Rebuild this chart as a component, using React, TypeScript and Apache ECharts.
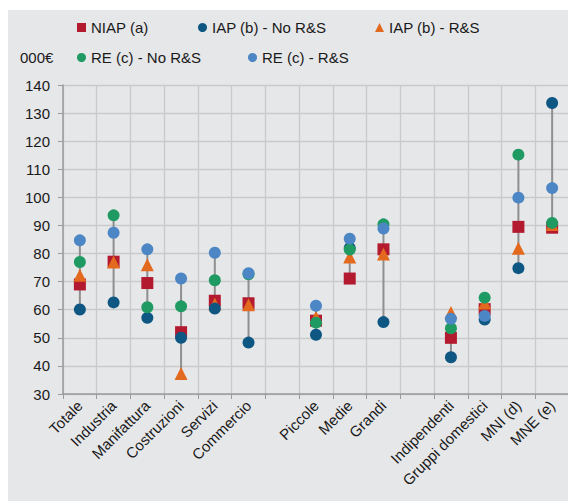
import React, { useEffect, useRef } from "react";
import * as echarts from "echarts";

const categories = [
  "Totale", "Industria", "Manifattura", "Costruzioni", "Servizi", "Commercio", "",
  "Piccole", "Medie", "Grandi", "",
  "Indipendenti", "Gruppi domestici", "MNI (d)", "MNE (e)",
];
const niap = [69, 77.1, 69.5, 52, 63.2, 62.3, null, 56.1, 71.1, 81.5, null, 50, 60.2, 89.5, 89.2];
const iapNoRS = [60.1, 62.6, 57.1, 50, 60.4, 48.3, null, 51.1, 82, 55.6, null, 43.1, 56.5, 74.8, 133.6];
const iapRS = [72.3, 77, 76, 37.3, 62, 61.8, null, 57.3, 78.8, 79.8, null, 59, 62.4, 81.9, 90.3];
const reNoRS = [77, 93.6, 60.9, 61.2, 70.5, 72.6, null, 55.4, 81.4, 90.4, null, 53.4, 64.3, 115.2, 90.9];
const reRS = [84.7, 87.4, 81.5, 71.1, 80.3, 73, null, 61.4, 85.3, 88.9, null, 56.8, 57.8, 99.9, 103.3];
const yTicks = { min: 30, max: 140, interval: 10 };

const names = ["NIAP (a)", "IAP (b) - No R&S", "IAP (b) - R&S", "RE (c) - No R&S", "RE (c) - R&S"];
const colors = ["#b3192f", "#0f5783", "#e2691d", "#1f9a62", "#4d86c4"];
const symbols = ["rect", "circle", "triangle", "circle", "circle"];

export default function App() {
  const ref = useRef<HTMLDivElement>(null);
  useEffect(() => {
    if (!ref.current) return;
    const chart = echarts.init(ref.current, undefined, { renderer: "svg" });
    const all = [niap, iapNoRS, iapRS, reNoRS, reRS];
    const ranges: number[][] = [];
    categories.forEach((_, i) => {
      const vals = all.map((a) => a[i]).filter((v) => v != null) as number[];
      if (vals.length) ranges.push([i, Math.min(...vals), Math.max(...vals)]);
    });
    const legendPos = [
      { left: 69, top: 12 },
      { left: 190, top: 12 },
      { left: 367, top: 12 },
      { left: 69, top: 42 },
      { left: 240, top: 42 },
    ];
    const font = "'Liberation Sans', Arial, sans-serif";
    const order = [0, 2, 1, 3, 4];
    chart.setOption({
      animation: false,
      backgroundColor: "#ffffff",
      textStyle: { fontFamily: font },
      graphic: [
        { type: "rect", z: -10, shape: { x: 0, y: 2, width: 568, height: 491 }, style: { fill: "#e6e7e9" } },
        { type: "text", left: 12, top: 42, style: { text: "000€", font: `15px ${font}`, fill: "#1a1a1a" } },
      ],
      legend: names.map((n, k) => ({
        data: [n],
        left: legendPos[k].left,
        top: legendPos[k].top,
        itemWidth: 9,
        itemHeight: 9,
        itemGap: 0,
        padding: 0,
        icon: symbols[k],
        selectedMode: false,
        textStyle: { fontSize: 15, color: "#1a1a1a", fontFamily: font },
      })),
      grid: { left: 55, right: 7, top: 77, bottom: 109 },
      xAxis: {
        type: "category",
        data: categories,
        axisLine: { lineStyle: { color: "#9a9a9a", width: 1.5 } },
        axisTick: { show: true, length: 5, lineStyle: { color: "#9a9a9a" } },
        splitLine: { show: true, lineStyle: { color: "#c9cacc", width: 1.3 } },
        axisLabel: { rotate: 45, fontSize: 15, color: "#1a1a1a", margin: 9, interval: 0, fontFamily: font },
      },
      yAxis: {
        type: "value",
        min: yTicks.min,
        max: yTicks.max,
        interval: yTicks.interval,
        axisLine: { show: true, lineStyle: { color: "#9a9a9a", width: 1.5 } },
        axisTick: { show: true, length: 5, lineStyle: { color: "#9a9a9a" } },
        splitLine: { show: true, lineStyle: { color: "#c9cacc", width: 1.3 } },
        axisLabel: { fontSize: 15, color: "#1a1a1a", margin: 13, fontFamily: font },
      },
      series: [
        {
          type: "custom",
          silent: true,
          data: ranges,
          encode: { x: 0, y: [1, 2] },
          renderItem: (params: any, api: any) => {
            const p1 = api.coord([api.value(0), api.value(1)]);
            const p2 = api.coord([api.value(0), api.value(2)]);
            return {
              type: "line",
              shape: { x1: p1[0], y1: p1[1], x2: p2[0], y2: p2[1] },
              style: { stroke: "#8f8f8f", lineWidth: 2 },
            };
          },
          z: 1,
        },
        ...order.map((k, j) => ({
          name: names[k],
          type: "scatter",
          data: all[k].map((v) => (v == null ? "-" : v)),
          symbol: symbols[k],
          symbolSize: k === 0 ? 12 : k === 2 ? 13 : 12,
          itemStyle: { color: colors[k], opacity: 1 },
          z: 2 + j,
        })),
      ],
    });
    return () => chart.dispose();
  }, []);
  return <div ref={ref} style={{ width: 568, height: 495 }} />;
}
